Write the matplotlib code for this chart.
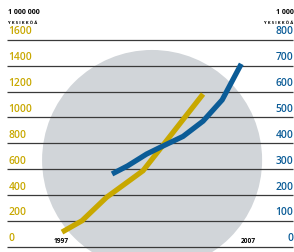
import matplotlib.pyplot as plt
from matplotlib.patches import Ellipse

# data (left axis: gold series, right axis: blue series)
gold_years = [1997.0, 1998.1, 1999.45, 2001.45, 2004.75]
gold_values = [115, 203, 384, 589, 1181]
blue_years = [1999.75, 2000.6, 2001.65, 2002.55, 2003.65, 2004.75, 2005.8, 2006.85]
blue_values = [282, 313, 359, 390, 427, 486, 568, 707]
left_ticks = [0, 200, 400, 600, 800, 1000, 1200, 1400, 1600]
right_ticks = [0, 100, 200, 300, 400, 500, 600, 700, 800]

GOLD = '#c8a800'
BLUE = '#0b5c97'
GRID = '#3a3a3a'
FONT = 'Open Sans'

fig = plt.figure(figsize=(2.94, 2.53), dpi=100)
ax = fig.add_axes([0, 0, 1, 1])
ax.set_xlim(1993.593, 2009.747)
ax.set_ylim(-38.6, 1915)
ax.axis('off')
ax2 = ax.twinx()
ax2.set_ylim(-19.3, 957.5)
ax2.axis('off')

# grey disc behind everything
ax.add_patch(Ellipse((2001.95, 672), 12.09, 1699, facecolor='#d1d5d9',
                     edgecolor='none', zorder=0))

# horizontal rules
ax.hlines(left_ticks, 1993.98, 2009.69, colors=GRID, linewidth=0.9, zorder=1)

# tick labels sitting on the rules
for v in left_ticks:
    ax.text(1994.05, v + 28, str(v), color=GOLD, fontsize=7.4, family=FONT,
            fontweight='semibold', ha='left', va='bottom')
for v in right_ticks:
    ax2.text(2009.72, v + 14, str(v), color=BLUE, fontsize=7.4, family=FONT,
             fontweight='semibold', ha='right', va='bottom')

# unit headers
ax.text(1994.05, 1790, '1 000 000', fontsize=5, family=FONT,
        fontweight='bold', ha='left', va='bottom')
ax.text(1994.05, 1722, 'Y K S I K K Ö Ä', fontsize=3.1, family=FONT,
        fontweight='bold', ha='left', va='bottom')
ax2.text(2009.72, 895, '1 000', fontsize=5, family=FONT,
         fontweight='bold', ha='right', va='bottom')
ax2.text(2009.72, 861, 'Y K S I K K Ö Ä', fontsize=3.1, family=FONT,
         fontweight='bold', ha='right', va='bottom')

# year labels
ax.text(1996.95, 20, '1997', fontsize=4.8, family=FONT, fontweight='bold',
        ha='center', va='bottom')
ax.text(2007.25, 20, '2007', fontsize=4.8, family=FONT, fontweight='bold',
        ha='center', va='bottom')

# the two series (blue on the twin axis, drawn on top)
ax2.plot(blue_years, blue_values, color=BLUE, linewidth=3.8,
         solid_capstyle='butt', solid_joinstyle='miter', zorder=3)
ax.plot(gold_years, gold_values, color=GOLD, linewidth=3.8,
        solid_capstyle='butt', solid_joinstyle='miter', zorder=3)

fig.savefig('out.png', dpi=100)
plt.close()
